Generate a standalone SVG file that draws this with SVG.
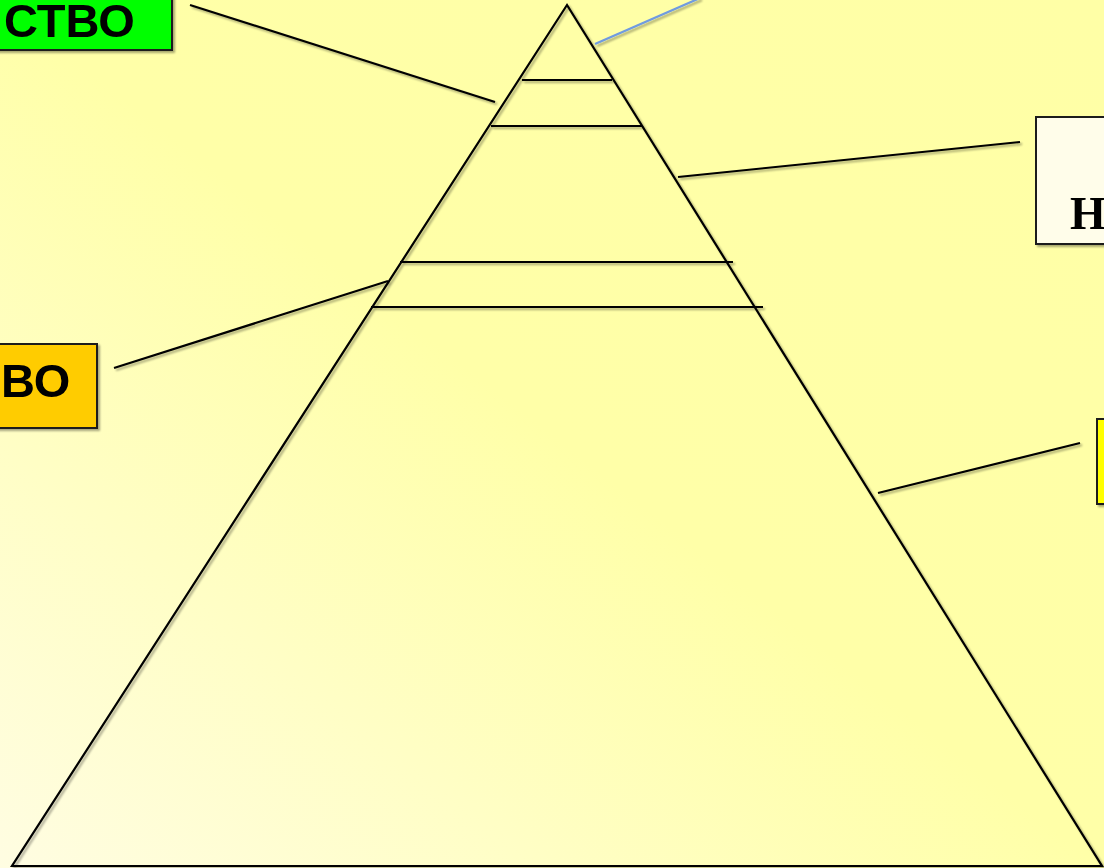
<svg xmlns="http://www.w3.org/2000/svg" width="1104" height="868" viewBox="0 0 1104 868">
<defs>
<linearGradient id="bg" x1="1" y1="0" x2="0" y2="1">
<stop offset="0" stop-color="#ffffa6"/>
<stop offset="0.5" stop-color="#ffffa8"/>
<stop offset="1" stop-color="#fffde2"/>
</linearGradient>
<filter id="sh" x="-10%" y="-10%" width="130%" height="130%">
<feGaussianBlur in="SourceAlpha" stdDeviation="1.2"/>
<feOffset dx="2" dy="2" result="b"/>
<feComponentTransfer><feFuncA type="linear" slope="0.35"/></feComponentTransfer>
<feMerge><feMergeNode/><feMergeNode in="SourceGraphic"/></feMerge>
</filter>
</defs>
<style>
.ln{stroke:#000;stroke-width:2.2;fill:none}
.box{stroke:#1a1a1a;stroke-width:2}
.sans{font-family:"Liberation Sans",Arial,sans-serif;font-weight:bold;fill:#000}
.serif{font-family:"Liberation Serif","Times New Roman",serif;font-weight:bold;fill:#000}
</style>
<rect x="0" y="0" width="1104" height="868" fill="url(#bg)"/>
<g id="pyramid" filter="url(#sh)">
<polygon points="567,5 12,866 1102,866" class="ln"/>
<line x1="522" y1="80" x2="612" y2="80" class="ln"/>
<line x1="491" y1="126" x2="642" y2="126" class="ln"/>
<line x1="400" y1="262" x2="733" y2="262" class="ln"/>
<line x1="371" y1="307" x2="763" y2="307" class="ln"/>
</g>
<g id="connectors" filter="url(#sh)">
<line x1="190" y1="5" x2="495" y2="102" class="ln"/>
<line x1="595" y1="44" x2="700" y2="-2" stroke="#6f9be0" stroke-width="2.4"/>
<line x1="678" y1="177" x2="1020" y2="142" class="ln"/>
<line x1="114" y1="368" x2="388" y2="281" class="ln"/>
<line x1="878" y1="493" x2="1080" y2="443" class="ln"/>
</g>
<g id="node-green" filter="url(#sh)">
<rect x="-10" y="-10" width="182" height="60" fill="#00ff00" class="box"/>
<text x="4" y="37" font-size="47" class="sans">СТВО</text>
</g>
<g id="node-white" filter="url(#sh)">
<rect x="1036" y="117" width="80" height="127" fill="#fffdea" class="box"/>
<text x="1070" y="229" font-size="46" class="serif">Н</text>
</g>
<g id="node-orange" filter="url(#sh)">
<rect x="-10" y="344" width="107" height="84" fill="#ffcc00" class="box"/>
<text x="1" y="397" font-size="47" class="sans">ВО</text>
</g>
<g id="node-yellow" filter="url(#sh)">
<rect x="1097" y="419" width="20" height="85" fill="#ffff00" class="box"/>
</g>
</svg>
